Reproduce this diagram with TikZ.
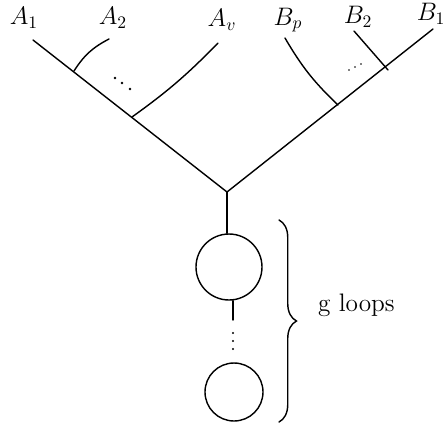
\documentclass[tikz,border=0pt]{standalone}
\usetikzlibrary{decorations.pathreplacing}
\begin{document}
\begin{tikzpicture}[
			x=0.02cm, y=-0.02cm,
			edge/.style={draw, thick, line cap=round},
			loop node/.style={draw, thick, circle, inner sep=0pt},
			label node/.style={font=\Large},
			dot/.style={circle, fill, inner sep=0pt, minimum size=1.6pt}
			]
			\useasboundingbox (0,0) rectangle (444,430);
			
			% tree
			\coordinate (root) at (227,192);
			\coordinate (lend) at (33,40);
			\coordinate (rend) at (433,29);
			\coordinate (ja2) at (74,71);
			\coordinate (jav) at (132,117);
			\coordinate (jbp) at (338,105);
			\coordinate (jb2) at (388,70);
			
			\node[label node] (a1) at (24,18) {$A_1$};
			\node[label node] (a2) at (113,18) {$A_2$};
			\node[label node] (av) at (222,20) {$A_v$};
			\node[label node] (bp) at (288,20) {$B_p$};
			\node[label node] (b2) at (358,17) {$B_2$};
			\node[label node] (b1) at (431,14) {$B_1$};
			
			\draw[edge] (lend) -- (root) -- (rend);
			\draw[edge] (ja2) to[bend left=15] (109,39);
			\draw[edge] (jav) to[bend right=5] (218,43);
			\draw[edge] (285,38) to[bend right=8] (jbp);
			\draw[edge] (354,31) -- (jb2);
			
			\node[dot] at (115,78) {};
			\node[dot] at (122,83) {};
			\node[dot] at (130,89) {};
			\node[dot, minimum size=1pt] at (349,70) {};
			\node[dot, minimum size=1pt] at (355,67) {};
			\node[dot, minimum size=1pt] at (361,64) {};
			
			% loops
			\node[loop node, minimum size=1.32cm] (loop1) at (229,267) {};
			\node[loop node, minimum size=1.16cm] (loop2) at (234,392) {};
			\draw[edge] (root) -- (root |- loop1.north);
			\coordinate (stub) at (233,320);
			\draw[edge] (stub |- loop1.south) -- (stub);
			\foreach \y in {333,341,349}
				\node[dot, minimum size=1.2pt] at (233,\y) {};
			
			\draw[edge, decorate, decoration={brace, amplitude=0.35cm}] (279,220) -- (279,422);
			\node[label node, anchor=west] (gl) at (312,305) {g loops};
			
		\end{tikzpicture}
\end{document}
